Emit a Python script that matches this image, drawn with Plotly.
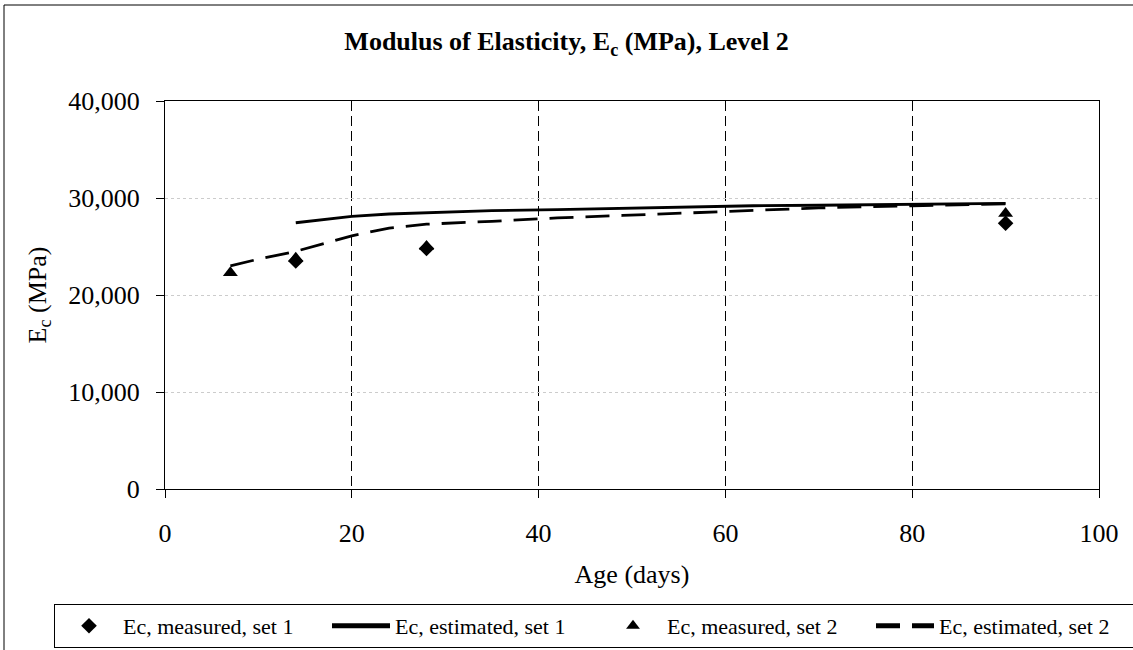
import plotly.graph_objects as go

# Measured modulus of elasticity (MPa) at test ages (days)
age_meas_1 = [14, 28, 90]
ec_meas_1 = [23500, 24800, 27400]
age_meas_2 = [7, 14, 28, 90]
ec_meas_2 = [22300, 23800, 25000, 28400]

# Estimated development curves
age_est_1 = [14, 17, 20, 24, 28, 35, 42, 49, 56, 63, 70, 80, 90]
ec_est_1 = [27450, 27750, 28100, 28350, 28500, 28700, 28800, 28950, 29100,
             29200, 29250, 29350, 29450]
age_est_2 = [7, 10, 14, 17, 20, 24, 28, 35, 42, 49, 56, 63, 70, 80, 90]
ec_est_2 = [23000, 23700, 24500, 25300, 26100, 26900, 27300, 27600, 27950,
            28200, 28450, 28750, 28980, 29200, 29400]

x_ticks = [0, 20, 40, 60, 80, 100]
y_ticks = [0, 10000, 20000, 30000, 40000]

FONT = "Liberation Serif, Times New Roman, serif"

# plot area in pixels
L, R, T, B = 165, 34, 101, 161
PW, PH = 1133 - L - R, 650 - T - B


def px_x(p):
    return (p - L) / PW


def px_y(p):
    return (650 - B - p) / PH


fig = go.Figure()
fig.add_trace(go.Scatter(
    x=age_meas_1, y=ec_meas_1, mode="markers", name="Ec, measured, set 1",
    marker=dict(symbol="diamond", size=12, color="black")))
fig.add_trace(go.Scatter(
    x=age_est_1, y=ec_est_1, mode="lines", name="Ec, estimated, set 1",
    line=dict(color="black", width=2.8)))
fig.add_trace(go.Scatter(
    x=age_meas_2, y=ec_meas_2, mode="markers", name="Ec, measured, set 2",
    marker=dict(symbol="triangle-up", size=13, color="black")))
fig.add_trace(go.Scatter(
    x=age_est_2, y=ec_est_2, mode="lines", name="Ec, estimated, set 2",
    line=dict(color="black", width=2.8, dash="24px,12px")))

fig.update_layout(
    width=1133, height=650,
    margin=dict(l=L, r=R, t=T, b=B, autoexpand=False),
    paper_bgcolor="white", plot_bgcolor="white",
    font=dict(family=FONT, color="black", size=26),
    title=dict(text="<b>Modulus of Elasticity, E<sub>c</sub> (MPa), Level 2</b>",
               x=0.5, xanchor="center", y=0.937, yanchor="middle",
               font=dict(size=26, family=FONT)),
    showlegend=True,
    legend=dict(orientation="h", x=px_x(54), xanchor="left",
                y=px_y(604), yanchor="top",
                font=dict(size=22, family=FONT), bordercolor="black", borderwidth=1,
                bgcolor="white", entrywidth=199, entrywidthmode="pixels",
                itemwidth=58, traceorder="normal", itemsizing="constant"),
    xaxis=dict(range=[0, 100], tickvals=x_ticks, ticks="outside", ticklen=8,
               tickcolor="black", showline=True, linecolor="black", linewidth=1,
               mirror=True, showgrid=True, gridcolor="black", gridwidth=1,
               griddash="10px,5px", zeroline=False, ticklabelstandoff=13,
               tickfont=dict(size=26, family=FONT),
               title=dict(text="Age (days)", standoff=17,
                          font=dict(size=26, family=FONT))),
    yaxis=dict(range=[0, 40000], tickvals=y_ticks, tickformat=",d",
               ticks="outside", ticklen=8, tickcolor="black",
               showline=True, linecolor="black", linewidth=1, mirror=True,
               showgrid=True, gridcolor="#cccccc", gridwidth=1, griddash="dot",
               zeroline=False, ticklabelstandoff=11,
               tickfont=dict(size=26, family=FONT),
               title=dict(text="E<sub>c</sub> (MPa)", standoff=14,
                          font=dict(size=26, family=FONT))),
)

# Frame around the whole chart area (right and bottom edges fall outside the page)
fig.add_shape(type="line", xref="paper", yref="paper",
              x0=px_x(4), x1=px_x(1140), y0=px_y(5), y1=px_y(5),
              line=dict(color="black", width=1))
fig.add_shape(type="line", xref="paper", yref="paper",
              x0=px_x(4), x1=px_x(4), y0=px_y(5), y1=px_y(660),
              line=dict(color="black", width=1))

fig.write_html("out.html")
